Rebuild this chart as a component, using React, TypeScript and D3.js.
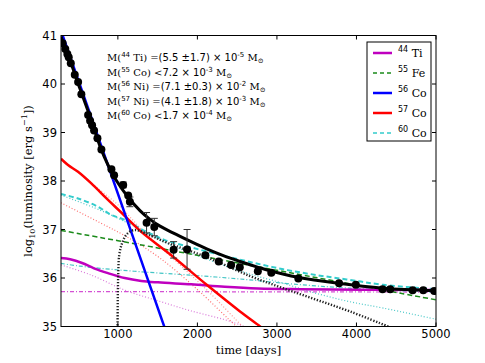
import React from 'react';
import * as d3 from 'd3';

type P = [number, number];

const xTicks = [1000, 2000, 3000, 4000, 5000];
const yTicks = [35, 36, 37, 38, 39, 40, 41];

// observed points: day, log L, error
const obsDay = [306, 339, 365, 382, 408, 458, 500, 541, 626, 651, 676, 701, 743, 793, 919, 953, 1067, 1130, 1151, 1361, 1458, 1701, 1870, 2100, 2268, 2424, 2533, 2760, 2929, 3269, 3781, 3992, 4328, 4424, 4706, 4840, 4978];
const obsLum = [40.84, 40.72, 40.62, 40.55, 40.43, 40.19, 40.04, 39.79, 39.36, 39.24, 39.15, 39.04, 38.88, 38.65, 38.24, 38.12, 37.92, 37.7, 37.57, 37.14, 37.05, 36.58, 36.59, 36.47, 36.34, 36.27, 36.22, 36.14, 36.11, 35.99, 35.89, 35.86, 35.77, 35.77, 35.75, 35.75, 35.73];
const obsErr = [0, 0, 0, 0, 0, 0, 0, 0, 0, 0, 0, 0, 0, 0, 0, 0, 0.06, 0, 0.1, 0.21, 0.18, 0.17, 0.41, 0, 0, 0, 0, 0, 0, 0, 0, 0, 0, 0, 0, 0, 0];

const totalModel: P[] = [[285, 40.98], [398, 40.49], [524, 39.9], [656, 39.3], [788, 38.66], [876, 38.33], [977, 38.02], [1127, 37.67], [1278, 37.39], [1404, 37.21], [1530, 37.07], [1693, 36.93], [1907, 36.76], [2117, 36.6], [2326, 36.46], [2536, 36.34], [2766, 36.22], [2913, 36.15], [3248, 36.02], [3771, 35.89], [4337, 35.79], [5000, 35.74]];
const co56: P[] = [[285, 41.1], [800, 38.68], [1600, 34.92]];
const co57: P[] = [[285, 38.46], [373, 38.33], [499, 38.19], [666, 37.95], [876, 37.61], [1043, 37.35], [1295, 36.95], [1656, 36.49], [2117, 35.86], [2536, 35.31], [2766, 35.03], [2813, 34.97]];
const co57a: P[] = [[285, 37.55], [775, 37.14], [1111, 36.85], [1530, 36.41], [2008, 35.75], [2486, 35.01], [2536, 34.95]];
const co57b: P[] = [[285, 38.43], [499, 38.19], [650, 37.98], [1027, 37.47], [1316, 36.97], [1740, 36.33], [2121, 35.75], [2561, 35.01], [2598, 34.95]];
const ti44: P[] = [[285, 36.41], [400, 36.385], [550, 36.31], [700, 36.2], [876, 36.1], [1086, 36.0], [1295, 35.94], [1505, 35.91], [1923, 35.87], [2343, 35.82], [2762, 35.785], [3290, 35.77], [5000, 35.75]];
const ti44dot: P[] = [[285, 36.27], [666, 36.06], [1086, 35.75], [1505, 35.53], [1923, 35.32], [2343, 35.14], [2573, 35.01], [2661, 34.95]];
const ti44dashdot: P[] = [[285, 35.72], [5000, 35.71]];
const fe55: P[] = [[285, 36.98], [1500, 36.62], [2670, 36.26], [5000, 35.55]];
const co60: P[] = [[285, 37.73], [499, 37.64], [750, 37.47], [918, 37.3], [1086, 37.2], [1291, 37.01], [1442, 36.89], [1593, 36.78], [1945, 36.62], [2306, 36.47], [2662, 36.33], [3080, 36.18], [3500, 36.06], [3919, 35.96], [4337, 35.86], [5000, 35.77]];
const co60dot: P[] = [[285, 37.71], [775, 37.4], [1152, 37.11], [1530, 36.78], [1907, 36.52], [2284, 36.29], [2662, 36.08], [3080, 35.89], [3500, 35.68], [3919, 35.51], [4337, 35.38], [5000, 35.15]];
const co60low: P[] = [[285, 36.3], [499, 36.25], [775, 36.2], [1278, 36.13], [1907, 36.06], [2536, 35.98], [3164, 35.88], [3919, 35.79], [5000, 35.71]];
const blackDot: P[] = [[996, 34.9], [999, 35.6], [1005, 36.1], [1017, 36.47], [1054, 36.72], [1117, 36.91], [1214, 36.99], [1417, 36.87], [1630, 36.72], [2117, 36.43], [2662, 36.04], [3077, 35.79], [3500, 35.55], [3919, 35.31], [4384, 35.01], [4430, 34.98]];

const legendIso = ['44', '55', '56', '57', '60'];
const legendEl = ['Ti', 'Fe', 'Co', 'Co', 'Co'];

const annIso = ['44', '55', '56', '57', '60'];
const annEl = ['Ti', 'Co', 'Ni', 'Ni', 'Co'];
const annRel = ['=', '<', '=', '=', '<'];
const annVal = ['(5.5 \u00b11.7) \u00d7 10', '7.2 \u00d7 10', '(7.1 \u00b10.3) \u00d7 10', '(4.1 \u00b11.8) \u00d7 10', '1.7 \u00d7 10'];
const annExp = ['-5', '-3', '-2', '-3', '-4'];

const L = 61, R = 436, T = 35.5, B = 326.5;
const SERIF = '"DejaVu Serif", serif';
const SANS = '"DejaVu Sans", sans-serif';

export default function App() {
  const x = d3.scaleLinear().domain([285, 5000]).range([L, R]);
  const y = d3.scaleLinear().domain([35, 41]).range([B, T]);
  const line = d3.line<P>().x(d => x(d[0])).y(d => y(d[1])).curve(d3.curveCatmullRom.alpha(0.5));

  const legendStyles = [
    { c: '#bf00bf', w: 2.5, d: undefined },
    { c: '#1a8a1a', w: 1.5, d: '4,3' },
    { c: '#0000ff', w: 2.5, d: undefined },
    { c: '#ff0000', w: 2.5, d: undefined },
    { c: '#33cccc', w: 1.5, d: '4,3' },
  ];

  return (
    <svg width={485} height={363} style={{ position: 'absolute', left: 0, top: 0, background: '#fff' }}>
      <defs>
        <clipPath id="plot"><rect x={L} y={T} width={R - L} height={B - T} /></clipPath>
      </defs>
      <rect x={0} y={0} width={485} height={363} fill="#fff" />
      <g clipPath="url(#plot)" fill="none">
        <path d={line(ti44dashdot)!} stroke="#cc33cc" strokeWidth={1.2} strokeDasharray="4,2,1,2" opacity={0.85} />
        <path d={line(ti44dot)!} stroke="#cc44cc" strokeWidth={1.2} strokeDasharray="1,2" opacity={0.7} />
        <path d={line(co60low)!} stroke="#22bbbb" strokeWidth={1.2} strokeDasharray="4,2,1,2" opacity={0.85} />
        <path d={line(co60dot)!} stroke="#22bbbb" strokeWidth={1.2} strokeDasharray="1,2" opacity={0.8} />
        <path d={line(co57a)!} stroke="#ff3333" strokeWidth={1.2} strokeDasharray="1,2" opacity={0.7} />
        <path d={line(co57b)!} stroke="#ff5555" strokeWidth={1.2} strokeDasharray="1,2" opacity={0.6} />
        <path d={line(fe55)!} stroke="#1a8a1a" strokeWidth={1.5} strokeDasharray="5,3" />
        <path d={line(co60)!} stroke="#33cccc" strokeWidth={2} strokeDasharray="5,3" />
        <path d={line(ti44)!} stroke="#bf00bf" strokeWidth={2.5} />
        <path d={line(co57)!} stroke="#ff0000" strokeWidth={2.5} />
        <path d={line(co56)!} stroke="#0000ff" strokeWidth={2.5} />
        <path d={line(blackDot)!} stroke="#222" strokeWidth={2.4} strokeDasharray="1.3,1.7" />
        <path d={line(totalModel)!} stroke="#000" strokeWidth={3} />
        {obsDay.map((d, i) => obsErr[i] > 0 ? (
          <g key={'e' + i} stroke="#333" strokeWidth={1}>
            <line x1={x(d)} x2={x(d)} y1={y(obsLum[i] - obsErr[i])} y2={y(obsLum[i] + obsErr[i])} />
            <line x1={x(d) - 3.5} x2={x(d) + 3.5} y1={y(obsLum[i] - obsErr[i])} y2={y(obsLum[i] - obsErr[i])} />
            <line x1={x(d) - 3.5} x2={x(d) + 3.5} y1={y(obsLum[i] + obsErr[i])} y2={y(obsLum[i] + obsErr[i])} />
          </g>
        ) : null)}
        {obsDay.map((d, i) => (
          <circle key={'p' + i} cx={x(d)} cy={y(obsLum[i])} r={4} fill="#000" />
        ))}
      </g>
      {/* frame and ticks */}
      <rect x={L} y={T} width={R - L} height={B - T} fill="none" stroke="#000" strokeWidth={1} />
      {xTicks.map(t => (
        <g key={'x' + t}>
          <line x1={x(t)} x2={x(t)} y1={B} y2={B - 4} stroke="#000" />
          <line x1={x(t)} x2={x(t)} y1={T} y2={T + 4} stroke="#000" />
          <text x={x(t)} y={338} textAnchor="middle" fontFamily={SANS} fontSize={11.5}>{t}</text>
        </g>
      ))}
      {yTicks.map(t => (
        <g key={'y' + t}>
          <line x1={L} x2={L + 4} y1={y(t)} y2={y(t)} stroke="#000" />
          <line x1={R} x2={R - 4} y1={y(t)} y2={y(t)} stroke="#000" />
          <text x={57} y={y(t) + 4} textAnchor="end" fontFamily={SANS} fontSize={11.5}>{t}</text>
        </g>
      ))}
      <text x={248.5} y={354} textAnchor="middle" fontFamily={SERIF} fontSize={11.5}>time [days]</text>
      <text transform="translate(32,181) rotate(-90)" textAnchor="middle" fontFamily={SERIF} fontSize={11.5}>
        log<tspan fontSize={8} dy={3}>10</tspan><tspan dy={-3}>(luminosity [erg s</tspan><tspan fontSize={8} dy={-5}>{'\u22121'}</tspan><tspan dy={5}>])</tspan>
      </text>
      {/* annotation */}
      {annIso.map((iso, i) => (
        <text key={'a' + i} x={107} y={61 + i * 14.5} fontFamily={SERIF} fontSize={10}>
          M(<tspan fontFamily={SANS} fontSize={7} dy={-4}>{iso}</tspan><tspan dy={4}> {annEl[i]}) {annRel[i]}</tspan><tspan fontFamily={SANS}>{annVal[i]}</tspan><tspan fontFamily={SANS} fontSize={7} dy={-4}>{annExp[i]}</tspan><tspan dy={4}> M</tspan><tspan fontSize={7} dy={2}>{'\u2299'}</tspan>
        </text>
      ))}
      {/* legend */}
      <rect x={367} y={42} width={64} height={99} fill="#fff" stroke="#000" strokeWidth={1} />
      {legendIso.map((iso, i) => (
        <g key={'l' + i}>
          <line x1={373} x2={392} y1={53 + i * 20} y2={53 + i * 20} stroke={legendStyles[i].c} strokeWidth={legendStyles[i].w} strokeDasharray={legendStyles[i].d} />
          <text x={398} y={57 + i * 20} fontFamily={SERIF} fontSize={11}>
            <tspan fontFamily={SANS} fontSize={8} dy={-5}>{iso}</tspan><tspan dy={5}> {legendEl[i]}</tspan>
          </text>
        </g>
      ))}
    </svg>
  );
}
